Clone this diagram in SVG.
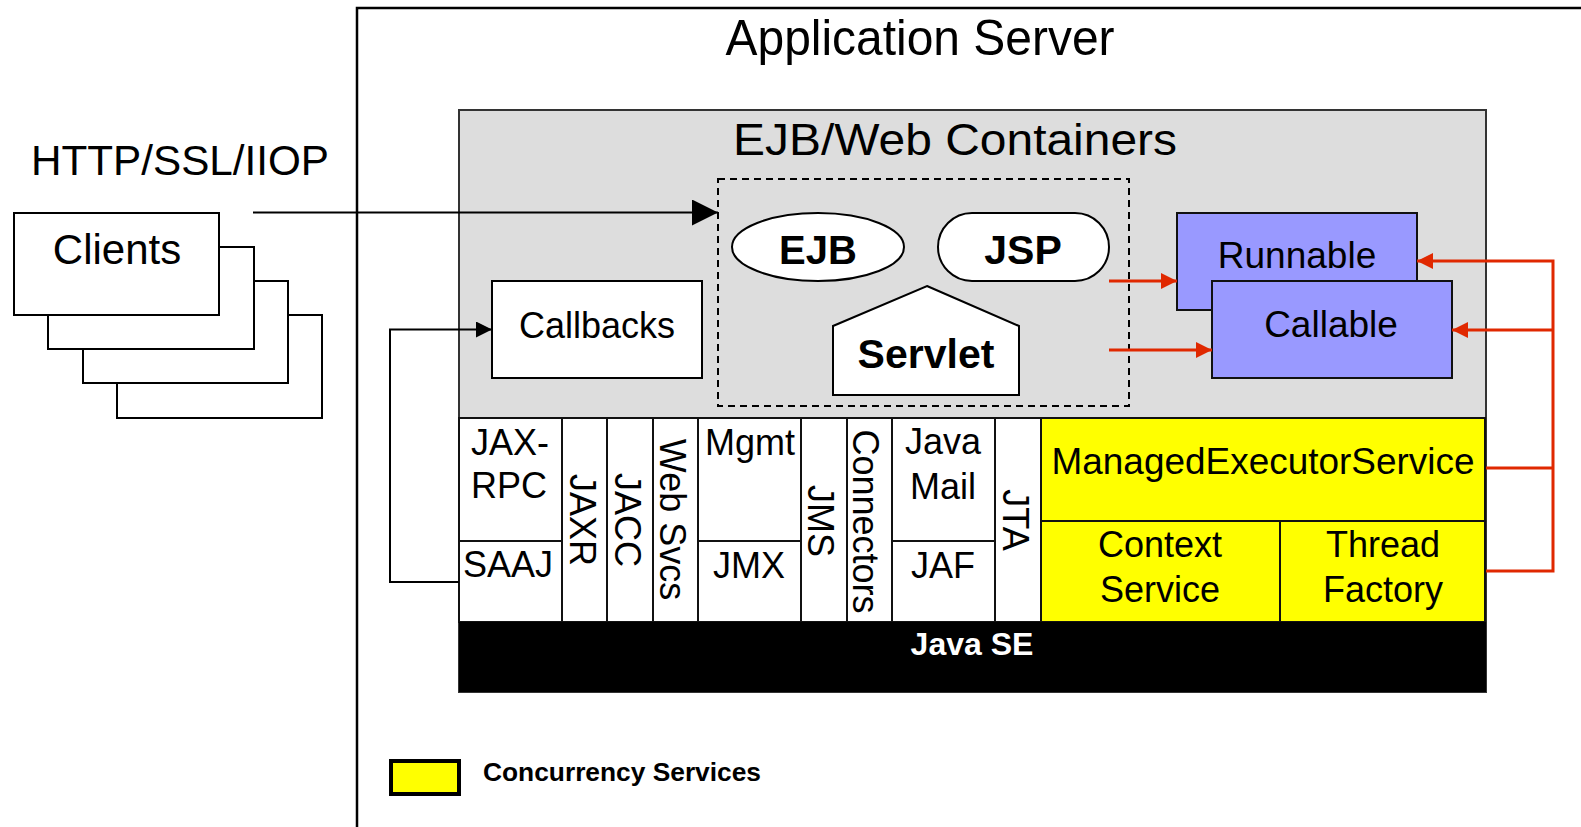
<svg xmlns="http://www.w3.org/2000/svg" width="1581" height="827" viewBox="0 0 1581 827">
<defs>
<style>
text{font-family:"Liberation Sans",Arial,Helvetica,sans-serif;fill:#000}
.c{text-anchor:middle}
.b{font-weight:bold}
.m{font-size:36px}
.box{fill:#fff;stroke:#000;stroke-width:2}
.mod{fill:#fff;stroke:#111;stroke-width:2}
.yel{fill:#FFFF00;stroke:#111;stroke-width:2}
.blue{fill:#9999FF;stroke:#111;stroke-width:2}
.blk{fill:none;stroke:#000;stroke-width:2}
.red{fill:none;stroke:#E02800;stroke-width:3}
</style>
<marker id="bigArrow" markerUnits="userSpaceOnUse" markerWidth="26" markerHeight="26" refX="26" refY="13" orient="auto"><path d="M0,0 L26,13 L0,26 z" fill="#000"/></marker>
<marker id="smallArrow" markerUnits="userSpaceOnUse" markerWidth="16" markerHeight="16" refX="16" refY="8" orient="auto"><path d="M0,0 L16,8 L0,16 z" fill="#000"/></marker>
<marker id="redArrow" markerUnits="userSpaceOnUse" markerWidth="17" markerHeight="16" refX="16" refY="8" orient="auto"><path d="M0,0 L16,8 L0,16 z" fill="#E02800"/></marker>
</defs>
<rect width="1581" height="827" fill="#fff"/>

<g id="app-server">
<rect x="357" y="8" width="1300" height="900" fill="none" stroke="#000" stroke-width="2.5"/>
<text x="920" y="55" class="c" font-size="50" textLength="389" lengthAdjust="spacingAndGlyphs">Application Server</text>
</g>

<g id="protocol-label">
<text x="180" y="175" class="c" font-size="42" textLength="298" lengthAdjust="spacingAndGlyphs">HTTP/SSL/IIOP</text>
</g>

<g id="clients">
<rect x="117" y="315" width="205" height="103" class="box"/>
<rect x="83" y="281" width="205" height="102" class="box"/>
<rect x="48" y="247" width="206" height="102" class="box"/>
<rect x="14" y="213" width="205" height="102" class="box"/>
<text x="117" y="264" class="c" font-size="42">Clients</text>
</g>

<g id="containers">
<rect x="459" y="110" width="1027" height="582" fill="#DDDDDD" stroke="#333" stroke-width="2"/>
<text x="955" y="155" class="c" font-size="45" textLength="444" lengthAdjust="spacingAndGlyphs">EJB/Web Containers</text>
</g>

<g id="web-components">
<rect x="718" y="179" width="411" height="227" fill="none" stroke="#000" stroke-width="2" stroke-dasharray="7,5"/>
</g>

<g id="ejb">
<ellipse cx="818" cy="247" rx="86" ry="34" class="box"/>
<text x="818" y="264" class="c b" font-size="40">EJB</text>
</g>

<g id="jsp">
<rect x="938" y="213" width="171" height="68" rx="34" ry="34" class="box"/>
<text x="1023" y="264" class="c b" font-size="41">JSP</text>
</g>

<g id="servlet">
<path d="M927,286 L1019,326 L1019,395 L833,395 L833,326 Z" class="box"/>
<text x="926" y="368" class="c b" font-size="41">Servlet</text>
</g>

<g id="callbacks">
<rect x="492" y="281" width="210" height="97" class="box"/>
<text x="597" y="338" class="c" font-size="36">Callbacks</text>
</g>

<g id="runnable">
<rect x="1177" y="213" width="240" height="97" class="blue"/>
<text x="1297" y="268" class="c" font-size="37">Runnable</text>
</g>

<g id="callable">
<rect x="1212" y="281" width="240" height="97" class="blue"/>
<text x="1331" y="337" class="c" font-size="37">Callable</text>
</g>

<g id="jax-rpc"><rect x="459" y="418" width="103" height="123" class="mod"/>
<text x="510" y="455" class="c m">JAX-</text><text x="509" y="498" class="c m">RPC</text></g>
<g id="saaj"><rect x="459" y="541" width="103" height="81" class="mod"/>
<text x="508" y="577" class="c m">SAAJ</text></g>
<g id="jaxr"><rect x="562" y="418" width="45" height="204" class="mod"/>
<text transform="translate(570,520) rotate(90)" class="c m">JAXR</text></g>
<g id="jacc"><rect x="607" y="418" width="46" height="204" class="mod"/>
<text transform="translate(615,520) rotate(90)" class="c m">JACC</text></g>
<g id="web-svcs"><rect x="653" y="418" width="45" height="204" class="mod"/>
<text transform="translate(660,519.5) rotate(90)" class="c m">Web Svcs</text></g>
<g id="mgmt"><rect x="698" y="418" width="103" height="123" class="mod"/>
<text x="750" y="455" class="c m">Mgmt</text></g>
<g id="jmx"><rect x="698" y="541" width="103" height="81" class="mod"/>
<text x="749" y="578" class="c m">JMX</text></g>
<g id="jms"><rect x="801" y="418" width="46" height="204" class="mod"/>
<text transform="translate(808,521) rotate(90)" class="c m">JMS</text></g>
<g id="connectors"><rect x="847" y="418" width="45" height="204" class="mod"/>
<text transform="translate(853,521.5) rotate(90)" class="c m">Connectors</text></g>
<g id="java-mail"><rect x="892" y="418" width="103" height="123" class="mod"/>
<text x="943" y="454" class="c m">Java</text><text x="943" y="499" class="c m">Mail</text></g>
<g id="jaf"><rect x="892" y="541" width="103" height="81" class="mod"/>
<text x="943" y="578" class="c m">JAF</text></g>
<g id="jta"><rect x="995" y="418" width="46" height="204" class="mod"/>
<text transform="translate(1003,520) rotate(90)" class="c m">JTA</text></g>

<g id="managed-executor-service"><rect x="1041" y="418" width="444" height="103" class="yel"/>
<text x="1263" y="474" class="c" font-size="37" textLength="423" lengthAdjust="spacingAndGlyphs">ManagedExecutorService</text></g>
<g id="context-service"><rect x="1041" y="521" width="239" height="101" class="yel"/>
<text x="1160" y="557" class="c m">Context</text><text x="1160" y="602" class="c m">Service</text></g>
<g id="thread-factory"><rect x="1280" y="521" width="205" height="101" class="yel"/>
<text x="1383" y="557" class="c m">Thread</text><text x="1383" y="602" class="c m">Factory</text></g>

<g id="java-se"><rect x="459" y="622" width="1027" height="70" fill="#000"/>
<text x="972" y="655" class="c b" font-size="32" style="fill:#fff">Java SE</text></g>

<g id="legend">
<rect x="391" y="761" width="68" height="33" fill="#FFFF00" stroke="#000" stroke-width="4"/>
<text x="483" y="781" class="b" font-size="26" textLength="278" lengthAdjust="spacingAndGlyphs">Concurrency Services</text>
</g>

<g id="connectors-lines">
<path d="M253,212.5 H718" class="blk" marker-end="url(#bigArrow)"/>
<path d="M459,582 H390 V329.5 H492" class="blk" marker-end="url(#smallArrow)"/>
<path d="M1109,281 H1177" class="red" marker-end="url(#redArrow)"/>
<path d="M1109,350 H1212" class="red" marker-end="url(#redArrow)"/>
<path d="M1486,571 H1553 V261 H1417" class="red" marker-end="url(#redArrow)"/>
<path d="M1486,468 H1553" class="red"/>
<path d="M1553,330 H1452" class="red" marker-end="url(#redArrow)"/>
</g>
</svg>
